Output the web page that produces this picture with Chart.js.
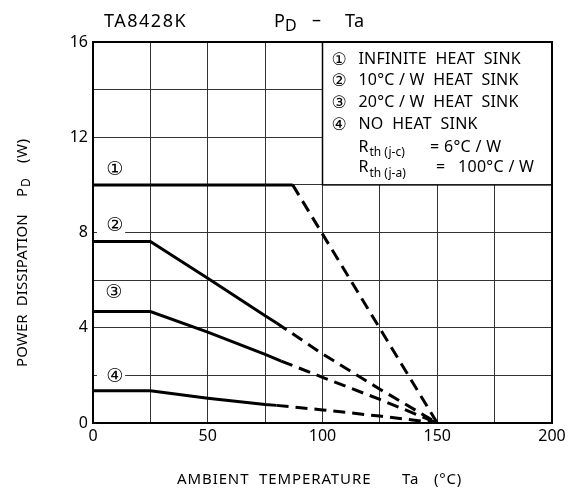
<!DOCTYPE html>
<html>
<head>
<meta charset="utf-8">
<script src="https://cdn.jsdelivr.net/npm/chart.js@4/dist/chart.umd.min.js"></script>
<style>
    html, body { margin: 0; padding: 0; background: #fff; }
    #wrap { width: 572px; height: 488px; }
</style>
</head>
<body>
<div id="wrap"><canvas id="chartPd"></canvas></div>
<script>
// PD - Ta derating curves (TA8428K)

const xTickLabels = [0, 50, 100, 150, 200];
const yTickLabels = [0, 4, 8, 12, 16];

// 1: infinite heat sink
const taInfinite = [0, 87, 150];
const pdInfinite = [10, 10, 0];
// 2: 10 C/W heat sink
const ta10cw = [0, 25, 50, 75, 80, 100, 125, 150];
const pd10cw = [7.62, 7.62, 6.08, 4.5, 4.2, 2.9, 1.42, 0];
// 3: 20 C/W heat sink
const ta20cw = [0, 25, 50, 75, 82, 100, 125, 150];
const pd20cw = [4.68, 4.68, 3.82, 2.88, 2.6, 1.92, 0.99, 0];
// 4: no heat sink
const taNoSink = [0, 25, 50, 75, 80, 100, 125, 150];
const pdNoSink = [1.35, 1.35, 1.04, 0.78, 0.74, 0.55, 0.29, 0];

// Ta where the solid (guaranteed) part ends and the dashed part begins
const solidEnd = [87, 80, 82, 80];

const curveMarks = ['\u2460', '\u2461', '\u2462', '\u2463'];
const legendLines = ['INFINITE  HEAT  SINK', '10\u00B0C / W  HEAT  SINK', '20\u00B0C / W  HEAT  SINK', 'NO  HEAT  SINK'];

const FONT = '"Noto Sans", "DejaVu Sans", sans-serif';

function toPoints(xs, ys) {
    return xs.map((x, i) => ({ x: x, y: ys[i] }));
}

function curve(label, xs, ys, endSolid) {
    return {
        label: label,
        data: toPoints(xs, ys),
        borderColor: '#000',
        borderWidth: 3,
        pointRadius: 0,
        tension: 0,
        fill: false,
        segment: {
            borderDash: ctx => ctx.p0.parsed.x >= endSolid - 0.01 ? [12, 7] : undefined
        }
    };
}

function text(ctx, s, x, y, size, spacing) {
    ctx.font = size + 'px ' + FONT;
    ctx.letterSpacing = (spacing || 0) + 'px';
    ctx.fillText(s, x, y);
}

// draws legend box, curve numbers, frame and texts
const decorPlugin = {
    id: 'decor',
    beforeDatasetsDraw(chart) {
        const { ctx, chartArea: a, scales: { x, y } } = chart;
        ctx.save();

        // legend box over the grid (top right)
        const bx = x.getPixelForValue(100), by = y.getPixelForValue(10);
        ctx.fillStyle = '#fff';
        ctx.fillRect(bx, a.top, a.right - bx, by - a.top);
        ctx.strokeStyle = '#000';
        ctx.lineWidth = 1.5;
        ctx.strokeRect(bx, a.top, a.right - bx, by - a.top);

        ctx.fillStyle = '#000';
        ctx.textBaseline = 'alphabetic';
        ctx.textAlign = 'left';
        const lx = bx + 9, tx = bx + 36;
        legendLines.forEach((t, i) => {
            const yy = a.top + 21.5 + i * 21.7;
            text(ctx, curveMarks[i], lx, yy + 1, 17);
            text(ctx, t, tx, yy, 16, 0.2);
        });
        const rth = [['j-c', '6\u00B0C / W', 430, 444], ['j-a', '100\u00B0C / W', 436, 458]];
        rth.forEach((r, i) => {
            const yy = a.top + 109.5 + i * 20.5;
            text(ctx, 'R', tx, yy, 16);
            text(ctx, 'th (' + r[0] + ')', tx + 11, yy + 4.5, 12);
            text(ctx, '=', r[2], yy, 16);
            text(ctx, r[1], r[3], yy, 16, 0.3);
        });

        // curve numbers near the left axis
        const marks = [[9.5, 10.7], [9.5, 8.35], [9, 5.5], [9.5, 2.0]];
        ctx.textAlign = 'center';
        ctx.textBaseline = 'middle';
        marks.forEach((m, i) => {
            const px = x.getPixelForValue(m[0]), py = y.getPixelForValue(m[1]);
            ctx.fillStyle = '#fff';
            ctx.fillRect(a.left + 4, py - 11, x.getPixelForValue(14) - a.left - 4, 22);
            ctx.fillStyle = '#000';
            text(ctx, curveMarks[i], px, py + 1, 19);
        });

        // frame
        ctx.strokeStyle = '#000';
        ctx.lineWidth = 2;
        ctx.strokeRect(a.left, a.top, a.right - a.left, a.bottom - a.top);
        ctx.restore();
    },
    afterDraw(chart) {
        const { ctx } = chart;
        ctx.save();
        ctx.fillStyle = '#000';
        ctx.textBaseline = 'alphabetic';
        ctx.textAlign = 'left';

        // title
        text(ctx, 'TA8428K', 104, 27, 18, 1.5);
        text(ctx, 'P', 274, 27, 18);
        text(ctx, 'D', 285, 31, 16);
        text(ctx, '\u2013', 312, 26, 18);
        text(ctx, 'Ta', 345, 27, 18, 0.5);

        // x axis title
        text(ctx, 'AMBIENT  TEMPERATURE', 177, 484, 15, 0.9);
        text(ctx, 'Ta', 402, 484, 15, 0.8);
        text(ctx, '(\u00B0C)', 434, 484, 15, 0.8);

        // y axis title, rotated
        ctx.translate(27, 367);
        ctx.rotate(-Math.PI / 2);
        text(ctx, 'POWER  DISSIPATION', 0, 0, 15, 0.1);
        text(ctx, 'P', 170, 0, 15);
        text(ctx, 'D', 180, 3, 12);
        text(ctx, '(W)', 204, 0, 15, 0.5);
        ctx.restore();
    }
};

new Chart(document.getElementById('chartPd').getContext('2d'), {
    type: 'line',
    data: {
        datasets: [
            curve('INFINITE HEAT SINK', taInfinite, pdInfinite, solidEnd[0]),
            curve('10°C/W HEAT SINK', ta10cw, pd10cw, solidEnd[1]),
            curve('20°C/W HEAT SINK', ta20cw, pd20cw, solidEnd[2]),
            curve('NO HEAT SINK', taNoSink, pdNoSink, solidEnd[3])
        ]
    },
    options: {
        responsive: true,
        maintainAspectRatio: false,
        animation: false,
        layout: { padding: { top: 42, right: 20, left: 0, bottom: 0 } },
        plugins: {
            legend: { display: false },
            tooltip: { enabled: false }
        },
        scales: {
            x: {
                type: 'linear',
                min: 0, max: 200,
                ticks: {
                    stepSize: 25,
                    color: '#000',
                    font: { family: FONT, size: 16 },
                    padding: 4,
                    maxRotation: 0,
                    callback: v => xTickLabels.includes(v) ? v : ''
                },
                grid: { color: '#333', lineWidth: 1, drawTicks: false },
                border: { display: false },
                afterFit: s => { s.height = 65; }
            },
            y: {
                type: 'linear',
                min: 0, max: 16,
                ticks: {
                    stepSize: 2,
                    color: '#000',
                    font: { family: FONT, size: 16 },
                    padding: 5,
                    callback: v => yTickLabels.includes(v) ? v : ''
                },
                grid: { color: '#333', lineWidth: 1, drawTicks: false },
                border: { display: false },
                afterFit: s => { s.width = 93; }
            }
        }
    },
    plugins: [decorPlugin]
});
</script>
</body>
</html>
